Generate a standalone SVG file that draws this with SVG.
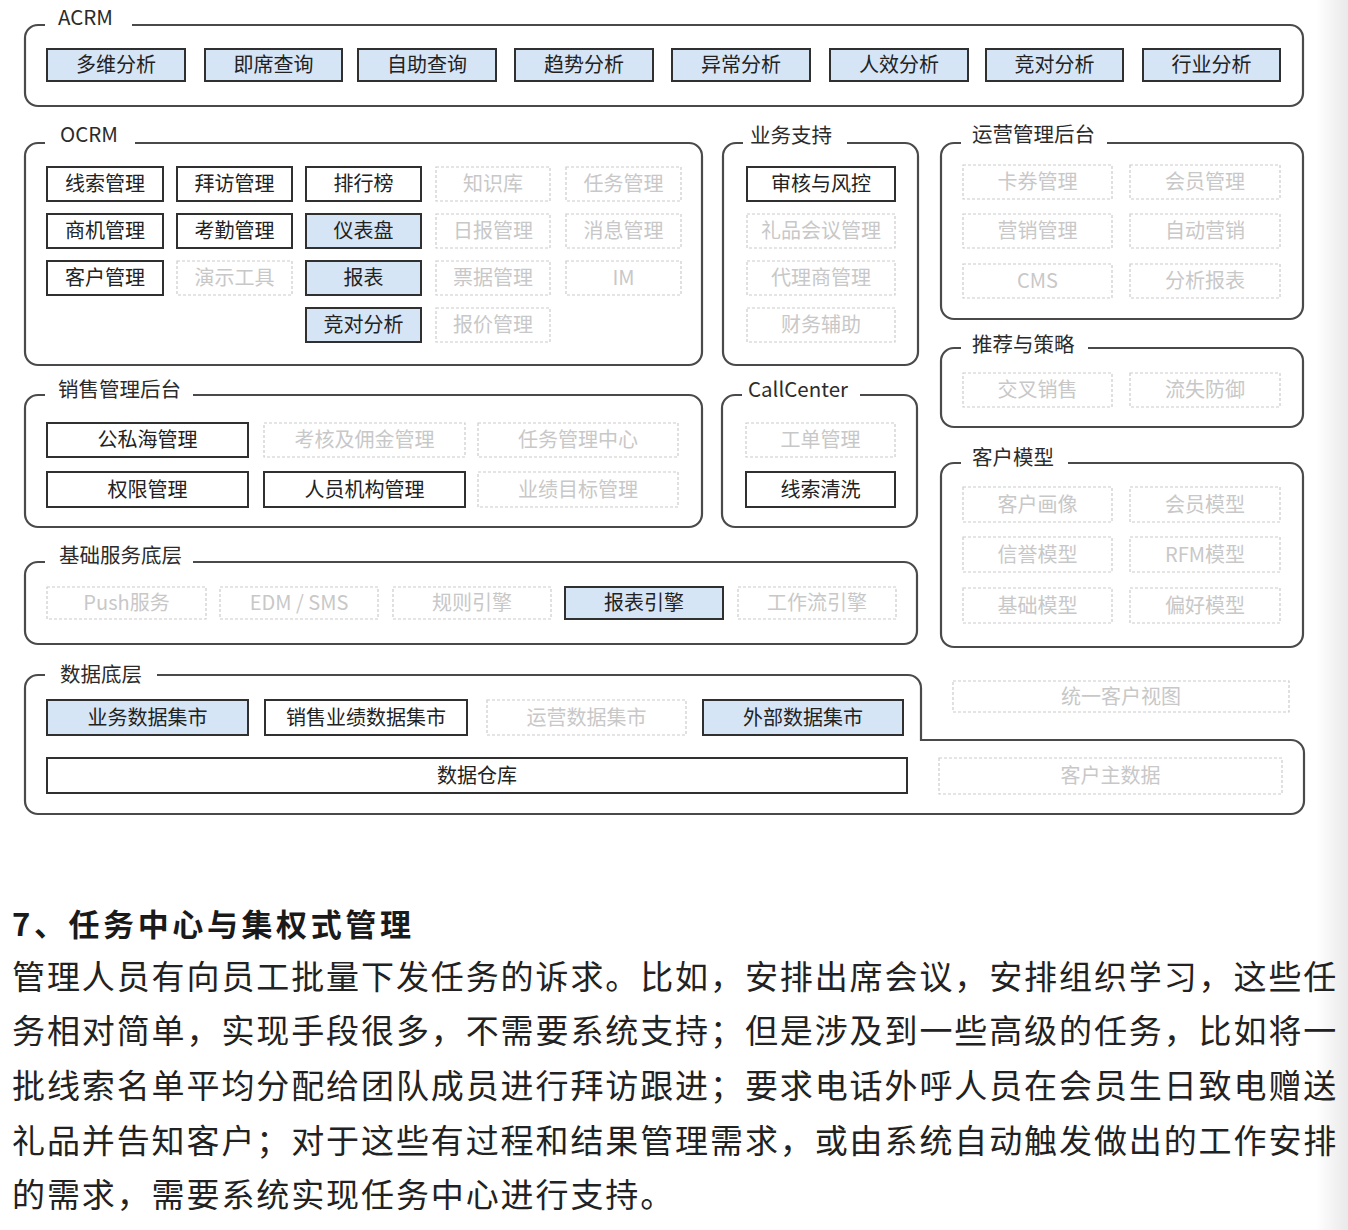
<svg xmlns="http://www.w3.org/2000/svg" width="1348" height="1230" viewBox="0 0 1348 1230">
<defs>
<linearGradient id="edge" x1="0" y1="0" x2="1" y2="0">
<stop offset="0" stop-color="#ffffff"/>
<stop offset="1" stop-color="#e9e9e9"/>
</linearGradient>
</defs>
<style>
.grp{fill:none;stroke:#4a4a4a;stroke-width:2.2}
.gl{font-family:"Noto Sans CJK SC","Liberation Sans",sans-serif;font-size:20.5px;fill:#2b2b2b}
.s{fill:#ffffff;stroke:#303030;stroke-width:2}
.b{fill:#d6e5f5;stroke:#303030;stroke-width:2}
.d{fill:#ffffff;stroke:#cccccc;stroke-width:1.2;stroke-dasharray:3 2}
.t{font-family:"Noto Sans CJK SC","Liberation Sans",sans-serif;font-size:20px;fill:#222222;text-anchor:middle}
.td{fill:#c8c8c8}
.body{font-family:"Noto Sans CJK SC","Liberation Sans",sans-serif;font-size:33px;fill:#222222;letter-spacing:1.9px}
.title{font-family:"Noto Sans CJK SC","Liberation Sans",sans-serif;font-size:31px;font-weight:bold;fill:#1a1a1a;letter-spacing:3.6px}
</style>
<rect x="0" y="0" width="1348" height="1230" fill="#ffffff"/>
<rect x="1316" y="0" width="32" height="1230" fill="url(#edge)"/>

<!-- containers -->
<g id="containers">
<g id="grp-acrm"><path class="grp" d="M132,25 H1290 A13,13 0 0 1 1303,38 V93 A13,13 0 0 1 1290,106 H38 A13,13 0 0 1 25,93 V38 A13,13 0 0 1 38,25 H45"/><text class="gl" x="58" y="25">ACRM</text></g>
<g id="grp-ocrm"><path class="grp" d="M135,143 H689 A13,13 0 0 1 702,156 V352 A13,13 0 0 1 689,365 H38 A13,13 0 0 1 25,352 V156 A13,13 0 0 1 38,143 H45"/><text class="gl" x="60" y="142">OCRM</text></g>
<g id="grp-support"><path class="grp" d="M847,143 H905 A13,13 0 0 1 918,156 V352 A13,13 0 0 1 905,365 H736 A13,13 0 0 1 723,352 V156 A13,13 0 0 1 736,143 H743"/><text class="gl" x="750" y="143">业务支持</text></g>
<g id="grp-ops"><path class="grp" d="M1107,143 H1290 A13,13 0 0 1 1303,156 V306 A13,13 0 0 1 1290,319 H954 A13,13 0 0 1 941,306 V156 A13,13 0 0 1 954,143 H961"/><text class="gl" x="972" y="142">运营管理后台</text></g>
<g id="grp-rec"><path class="grp" d="M1088,348 H1290 A13,13 0 0 1 1303,361 V414 A13,13 0 0 1 1290,427 H954 A13,13 0 0 1 941,414 V361 A13,13 0 0 1 954,348 H961"/><text class="gl" x="972" y="352">推荐与策略</text></g>
<g id="grp-sales"><path class="grp" d="M193,395 H689 A13,13 0 0 1 702,408 V514 A13,13 0 0 1 689,527 H38 A13,13 0 0 1 25,514 V408 A13,13 0 0 1 38,395 H45"/><text class="gl" x="58" y="397">销售管理后台</text></g>
<g id="grp-callcenter"><path class="grp" d="M860,395 H904 A13,13 0 0 1 917,408 V514 A13,13 0 0 1 904,527 H735 A13,13 0 0 1 722,514 V408 A13,13 0 0 1 735,395 H742"/><text class="gl" x="748" y="397">CallCenter</text></g>
<g id="grp-model"><path class="grp" d="M1068,463 H1290 A13,13 0 0 1 1303,476 V634 A13,13 0 0 1 1290,647 H954 A13,13 0 0 1 941,634 V476 A13,13 0 0 1 954,463 H961"/><text class="gl" x="972" y="465">客户模型</text></g>
<g id="grp-base"><path class="grp" d="M193,562 H904 A13,13 0 0 1 917,575 V631 A13,13 0 0 1 904,644 H38 A13,13 0 0 1 25,631 V575 A13,13 0 0 1 38,562 H45"/><text class="gl" x="59" y="563">基础服务底层</text></g>
<g id="grp-data"><path class="grp" d="M157,675 H908 A13,13 0 0 1 921,688 V740 H1291 A13,13 0 0 1 1304,753 V801 A13,13 0 0 1 1291,814 H38 A13,13 0 0 1 25,801 V688 A13,13 0 0 1 38,675 H45"/><text class="gl" x="60" y="682">数据底层</text></g>
</g>

<!-- ACRM nodes -->
<g id="n-acrm-1"><rect class="b" x="47" y="49" width="138" height="32"/><text class="t" x="116" y="72">多维分析</text></g>
<g id="n-acrm-2"><rect class="b" x="205" y="49" width="137" height="32"/><text class="t" x="273.5" y="72">即席查询</text></g>
<g id="n-acrm-3"><rect class="b" x="358" y="49" width="138" height="32"/><text class="t" x="427" y="72">自助查询</text></g>
<g id="n-acrm-4"><rect class="b" x="515" y="49" width="138" height="32"/><text class="t" x="584" y="72">趋势分析</text></g>
<g id="n-acrm-5"><rect class="b" x="672" y="49" width="138" height="32"/><text class="t" x="741" y="72">异常分析</text></g>
<g id="n-acrm-6"><rect class="b" x="830" y="49" width="138" height="32"/><text class="t" x="899" y="72">人效分析</text></g>
<g id="n-acrm-7"><rect class="b" x="986" y="49" width="137" height="32"/><text class="t" x="1054.5" y="72">竞对分析</text></g>
<g id="n-acrm-8"><rect class="b" x="1143" y="49" width="137" height="32"/><text class="t" x="1211.5" y="72">行业分析</text></g>

<!-- OCRM nodes -->
<g id="n-ocrm-xs"><rect class="s" x="47" y="167" width="116" height="34"/><text class="t" x="105" y="191">线索管理</text></g>
<g id="n-ocrm-bf"><rect class="s" x="177" y="167" width="115" height="34"/><text class="t" x="234.5" y="191">拜访管理</text></g>
<g id="n-ocrm-ph"><rect class="s" x="306" y="167" width="115" height="34"/><text class="t" x="363.5" y="191">排行榜</text></g>
<g id="n-ocrm-zs"><rect class="d" x="436" y="167" width="114" height="34"/><text class="t td" x="493" y="191">知识库</text></g>
<g id="n-ocrm-rw"><rect class="d" x="566" y="167" width="115" height="34"/><text class="t td" x="623.5" y="191">任务管理</text></g>
<g id="n-ocrm-sj"><rect class="s" x="47" y="214" width="116" height="34"/><text class="t" x="105" y="238">商机管理</text></g>
<g id="n-ocrm-kq"><rect class="s" x="177" y="214" width="115" height="34"/><text class="t" x="234.5" y="238">考勤管理</text></g>
<g id="n-ocrm-yb"><rect class="b" x="306" y="214" width="115" height="34"/><text class="t" x="363.5" y="238">仪表盘</text></g>
<g id="n-ocrm-rb"><rect class="d" x="436" y="214" width="114" height="34"/><text class="t td" x="493" y="238">日报管理</text></g>
<g id="n-ocrm-xx"><rect class="d" x="566" y="214" width="115" height="34"/><text class="t td" x="623.5" y="238">消息管理</text></g>
<g id="n-ocrm-kh"><rect class="s" x="47" y="261" width="116" height="34"/><text class="t" x="105" y="285">客户管理</text></g>
<g id="n-ocrm-ys"><rect class="d" x="177" y="261" width="115" height="34"/><text class="t td" x="234.5" y="285">演示工具</text></g>
<g id="n-ocrm-bb"><rect class="b" x="306" y="261" width="115" height="34"/><text class="t" x="363.5" y="285">报表</text></g>
<g id="n-ocrm-pj"><rect class="d" x="436" y="261" width="114" height="34"/><text class="t td" x="493" y="285">票据管理</text></g>
<g id="n-ocrm-im"><rect class="d" x="566" y="261" width="115" height="34"/><text class="t td" x="623.5" y="285">IM</text></g>
<g id="n-ocrm-jd"><rect class="b" x="306" y="308" width="115" height="34"/><text class="t" x="363.5" y="332">竞对分析</text></g>
<g id="n-ocrm-bj"><rect class="d" x="436" y="308" width="114" height="34"/><text class="t td" x="493" y="332">报价管理</text></g>

<!-- 业务支持 nodes -->
<g id="n-sup-1"><rect class="s" x="747" y="167" width="148" height="34"/><text class="t" x="821" y="191">审核与风控</text></g>
<g id="n-sup-2"><rect class="d" x="747" y="214" width="148" height="34"/><text class="t td" x="821" y="238">礼品会议管理</text></g>
<g id="n-sup-3"><rect class="d" x="747" y="261" width="148" height="34"/><text class="t td" x="821" y="285">代理商管理</text></g>
<g id="n-sup-4"><rect class="d" x="747" y="308" width="148" height="34"/><text class="t td" x="821" y="332">财务辅助</text></g>

<!-- 运营管理后台 nodes -->
<g id="n-ops-1"><rect class="d" x="963" y="165" width="149" height="34"/><text class="t td" x="1037.5" y="189">卡券管理</text></g>
<g id="n-ops-2"><rect class="d" x="1130" y="165" width="150" height="34"/><text class="t td" x="1205" y="189">会员管理</text></g>
<g id="n-ops-3"><rect class="d" x="963" y="214" width="149" height="34"/><text class="t td" x="1037.5" y="238">营销管理</text></g>
<g id="n-ops-4"><rect class="d" x="1130" y="214" width="150" height="34"/><text class="t td" x="1205" y="238">自动营销</text></g>
<g id="n-ops-5"><rect class="d" x="963" y="264" width="149" height="34"/><text class="t td" x="1037.5" y="288">CMS</text></g>
<g id="n-ops-6"><rect class="d" x="1130" y="264" width="150" height="34"/><text class="t td" x="1205" y="288">分析报表</text></g>

<!-- 推荐与策略 nodes -->
<g id="n-rec-1"><rect class="d" x="963" y="373" width="149" height="34"/><text class="t td" x="1037.5" y="397">交叉销售</text></g>
<g id="n-rec-2"><rect class="d" x="1130" y="373" width="150" height="34"/><text class="t td" x="1205" y="397">流失防御</text></g>

<!-- 销售管理后台 nodes -->
<g id="n-sales-1"><rect class="s" x="47" y="423" width="201" height="34"/><text class="t" x="147.5" y="447">公私海管理</text></g>
<g id="n-sales-2"><rect class="d" x="264" y="423" width="201" height="34"/><text class="t td" x="364.5" y="447">考核及佣金管理</text></g>
<g id="n-sales-3"><rect class="d" x="478" y="423" width="200" height="34"/><text class="t td" x="578" y="447">任务管理中心</text></g>
<g id="n-sales-4"><rect class="s" x="47" y="472" width="201" height="35"/><text class="t" x="147.5" y="497">权限管理</text></g>
<g id="n-sales-5"><rect class="s" x="264" y="472" width="201" height="35"/><text class="t" x="364.5" y="497">人员机构管理</text></g>
<g id="n-sales-6"><rect class="d" x="478" y="472" width="200" height="35"/><text class="t td" x="578" y="497">业绩目标管理</text></g>

<!-- CallCenter nodes -->
<g id="n-cc-1"><rect class="d" x="746" y="423" width="149" height="34"/><text class="t td" x="820.5" y="447">工单管理</text></g>
<g id="n-cc-2"><rect class="s" x="746" y="472" width="149" height="35"/><text class="t" x="820.5" y="497">线索清洗</text></g>

<!-- 客户模型 nodes -->
<g id="n-model-1"><rect class="d" x="963" y="487" width="149" height="35"/><text class="t td" x="1037.5" y="512">客户画像</text></g>
<g id="n-model-2"><rect class="d" x="1130" y="487" width="150" height="35"/><text class="t td" x="1205" y="512">会员模型</text></g>
<g id="n-model-3"><rect class="d" x="963" y="537" width="149" height="35"/><text class="t td" x="1037.5" y="562">信誉模型</text></g>
<g id="n-model-4"><rect class="d" x="1130" y="537" width="150" height="35"/><text class="t td" x="1205" y="562">RFM模型</text></g>
<g id="n-model-5"><rect class="d" x="963" y="588" width="149" height="35"/><text class="t td" x="1037.5" y="613">基础模型</text></g>
<g id="n-model-6"><rect class="d" x="1130" y="588" width="150" height="35"/><text class="t td" x="1205" y="613">偏好模型</text></g>

<!-- 基础服务底层 nodes -->
<g id="n-base-1"><rect class="d" x="47" y="587" width="159" height="32"/><text class="t td" x="126.5" y="610">Push服务</text></g>
<g id="n-base-2"><rect class="d" x="220" y="587" width="158" height="32"/><text class="t td" x="299" y="610">EDM / SMS</text></g>
<g id="n-base-3"><rect class="d" x="393" y="587" width="158" height="32"/><text class="t td" x="472" y="610">规则引擎</text></g>
<g id="n-base-4"><rect class="b" x="565" y="587" width="158" height="32"/><text class="t" x="644" y="610">报表引擎</text></g>
<g id="n-base-5"><rect class="d" x="738" y="587" width="158" height="32"/><text class="t td" x="817" y="610">工作流引擎</text></g>

<!-- 数据底层 nodes -->
<g id="n-data-1"><rect class="b" x="47" y="700" width="201" height="35"/><text class="t" x="147.5" y="725">业务数据集市</text></g>
<g id="n-data-2"><rect class="s" x="265" y="700" width="202" height="35"/><text class="t" x="366" y="725">销售业绩数据集市</text></g>
<g id="n-data-3"><rect class="d" x="487" y="700" width="199" height="35"/><text class="t td" x="586.5" y="725">运营数据集市</text></g>
<g id="n-data-4"><rect class="b" x="703" y="700" width="200" height="35"/><text class="t" x="803" y="725">外部数据集市</text></g>
<g id="n-data-dw"><rect class="s" x="47" y="758" width="860" height="35"/><text class="t" x="477" y="783">数据仓库</text></g>
<g id="n-data-view"><rect class="d" x="953" y="681" width="336" height="31"/><text class="t td" x="1121" y="704">统一客户视图</text></g>
<g id="n-data-mdm"><rect class="d" x="939" y="758" width="343" height="36"/><text class="t td" x="1110.5" y="783">客户主数据</text></g>

<g id="connectors"></g>

<!-- article text -->
<g id="article">
<text class="title" x="12" y="936">7、任务中心与集权式管理</text>
<text class="body" x="12" y="988.5">管理人员有向员工批量下发任务的诉求。比如，安排出席会议，安排组织学习，这些任</text>
<text class="body" x="12" y="1043">务相对简单，实现手段很多，不需要系统支持；但是涉及到一些高级的任务，比如将一</text>
<text class="body" x="12" y="1098">批线索名单平均分配给团队成员进行拜访跟进；要求电话外呼人员在会员生日致电赠送</text>
<text class="body" x="12" y="1152.5">礼品并告知客户；对于这些有过程和结果管理需求，或由系统自动触发做出的工作安排</text>
<text class="body" x="12" y="1207">的需求，需要系统实现任务中心进行支持。</text>
</g>
</svg>
